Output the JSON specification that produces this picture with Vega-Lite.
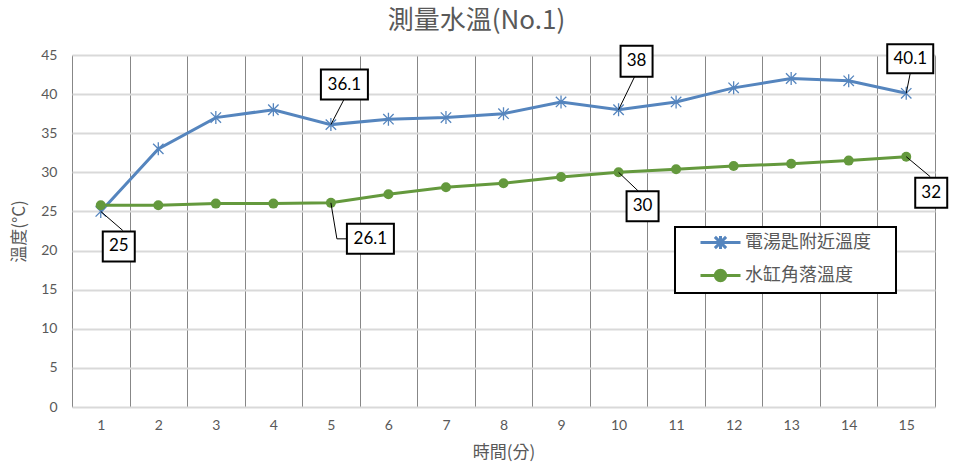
{
  "$schema": "https://vega.github.io/schema/vega-lite/v6.json",
  "autosize": "none",
  "padding": {"left": 72, "top": 55, "right": 18, "bottom": 64},
  "width": 863,
  "height": 352,
  "title": {
    "text": "測量水溫(No.1)",
    "font": "Noto Sans CJK TC",
    "fontSize": 26,
    "fontWeight": "normal",
    "color": "#595959",
    "anchor": "middle",
    "dx": -27,
    "offset": 9
  },
  "config": {
    "font": "Lato, 'Noto Sans CJK TC'",
    "view": {"stroke": null},
    "axis": {
      "labelColor": "#595959",
      "titleColor": "#595959",
      "titleFont": "Noto Sans CJK TC",
      "titleFontWeight": "normal",
      "titleFontSize": 17
    }
  },
  "data": {
    "values": [
      {"t": 1, "series": "電湯匙附近溫度", "temp": 25},
      {"t": 2, "series": "電湯匙附近溫度", "temp": 33},
      {"t": 3, "series": "電湯匙附近溫度", "temp": 37},
      {"t": 4, "series": "電湯匙附近溫度", "temp": 38},
      {"t": 5, "series": "電湯匙附近溫度", "temp": 36.1},
      {"t": 6, "series": "電湯匙附近溫度", "temp": 36.8},
      {"t": 7, "series": "電湯匙附近溫度", "temp": 37},
      {"t": 8, "series": "電湯匙附近溫度", "temp": 37.5},
      {"t": 9, "series": "電湯匙附近溫度", "temp": 39},
      {"t": 10, "series": "電湯匙附近溫度", "temp": 38},
      {"t": 11, "series": "電湯匙附近溫度", "temp": 39},
      {"t": 12, "series": "電湯匙附近溫度", "temp": 40.8},
      {"t": 13, "series": "電湯匙附近溫度", "temp": 42},
      {"t": 14, "series": "電湯匙附近溫度", "temp": 41.7},
      {"t": 15, "series": "電湯匙附近溫度", "temp": 40.1},
      {"t": 1, "series": "水缸角落溫度", "temp": 25.8},
      {"t": 2, "series": "水缸角落溫度", "temp": 25.8},
      {"t": 3, "series": "水缸角落溫度", "temp": 26},
      {"t": 4, "series": "水缸角落溫度", "temp": 26},
      {"t": 5, "series": "水缸角落溫度", "temp": 26.1},
      {"t": 6, "series": "水缸角落溫度", "temp": 27.2},
      {"t": 7, "series": "水缸角落溫度", "temp": 28.1},
      {"t": 8, "series": "水缸角落溫度", "temp": 28.6},
      {"t": 9, "series": "水缸角落溫度", "temp": 29.4},
      {"t": 10, "series": "水缸角落溫度", "temp": 30},
      {"t": 11, "series": "水缸角落溫度", "temp": 30.4},
      {"t": 12, "series": "水缸角落溫度", "temp": 30.8},
      {"t": 13, "series": "水缸角落溫度", "temp": 31.1},
      {"t": 14, "series": "水缸角落溫度", "temp": 31.5},
      {"t": 15, "series": "水缸角落溫度", "temp": 32}
    ]
  },
  "encoding": {
    "x": {
      "field": "t", "type": "quantitative",
      "scale": {"domain": [0.5, 15.5], "nice": false, "zero": false},
      "axis": {
        "values": [0.5, 1.5, 2.5, 3.5, 4.5, 5.5, 6.5, 7.5, 8.5, 9.5, 10.5, 11.5, 12.5, 13.5, 14.5, 15.5],
        "labelExpr": "datum.value < 15 ? datum.value + 0.5 : ''",
        "labelOffset": 28.77,
        "labelOverlap": false,
        "labelBound": false,
        "labelFlush": false,
        "grid": true, "gridColor": "#878787", "gridWidth": 1,
        "ticks": false, "domain": false,
        "labelFontSize": 14, "labelPadding": 11,
        "title": "時間(分)", "titlePadding": 12
      }
    },
    "y": {
      "field": "temp", "type": "quantitative",
      "scale": {"domain": [0, 45], "nice": false},
      "axis": {
        "values": [0, 5, 10, 15, 20, 25, 30, 35, 40, 45],
        "grid": true, "gridColor": "#d9d9d9", "gridWidth": 2,
        "ticks": false, "domain": false,
        "labelFontSize": 14, "labelPadding": 15,
        "title": "溫度(°C)", "titlePadding": 12
      }
    }
  },
  "layer": [
    {
      "mark": {"type": "line", "strokeWidth": 3},
      "encoding": {
        "color": {
          "field": "series", "type": "nominal",
          "scale": {"domain": ["電湯匙附近溫度", "水缸角落溫度"], "range": ["#5585be", "#64993d"]},
          "legend": {
            "title": null,
            "orient": "none",
            "legendX": 603,
            "legendY": 172,
            "padding": 6,
            "rowPadding": 9,
            "fillColor": "#ffffff",
            "strokeColor": "#000000",
            "symbolSize": 256,
            "symbolOffset": 30,
            "symbolStrokeWidth": 3,
            "labelOffset": 15,
            "labelFont": "Noto Sans CJK TC",
            "labelFontSize": 18,
            "labelColor": "#595959",
            "encode": {
              "legend": {"update": {"strokeWidth": {"value": 2}}},
              "symbols": {
                "update": {
                  "shape": {"signal": "datum.value === '電湯匙附近溫度' ? 'M-2.5,0L2.5,0M-0.7,-0.7L0.7,0.7M-0.7,0.7L0.7,-0.7M0,-0.8L0,0.8M20.4,0' : 'M-2.5,0L2.5,0M0.65,0A0.65,0.65,0,1,1,-0.65,0A0.65,0.65,0,1,1,0.65,0'"},
                  "fill": {"signal": "datum.value === '水缸角落溫度' ? '#64993d' : 'transparent'"}
                }
              }
            }
          }
        }
      }
    },
    {
      "transform": [{"filter": "datum.series === '電湯匙附近溫度'"}],
      "mark": {
        "type": "point",
        "shape": "M-0.8,-0.8L0.8,0.8M-0.8,0.8L0.8,-0.8M0,-1L0,1",
        "size": 169, "filled": false, "strokeWidth": 1.3, "opacity": 1,
        "color": "#5585be"
      }
    },
    {
      "transform": [{"filter": "datum.series === '水缸角落溫度'"}],
      "mark": {"type": "point", "shape": "circle", "size": 100, "filled": true, "opacity": 1, "color": "#64993d"}
    },
    {
      "transform": [{"filter": "datum.series === '電湯匙附近溫度' && datum.t === 1"}],
      "encoding": {"x2": {"field": "t"}, "y2": {"field": "temp"}},
      "layer": [
        {"mark": {"type": "rule", "color": "#000000", "strokeWidth": 1, "x2Offset": 22, "y2Offset": 19}},
        {"mark": {"type": "rect", "fill": "#ffffff", "stroke": "#000000", "strokeWidth": 2, "xOffset": 2, "x2Offset": 34, "yOffset": 20, "y2Offset": 50}},
        {"mark": {"type": "text", "fontSize": 17, "color": "#000000", "dx": 18, "dy": 35}, "encoding": {"text": {"field": "temp"}}}
      ]
    },
    {
      "transform": [{"filter": "datum.series === '水缸角落溫度' && datum.t === 5"}],
      "encoding": {"x2": {"field": "t"}, "y2": {"field": "temp"}},
      "layer": [
        {"mark": {"type": "rule", "color": "#000000", "strokeWidth": 1, "x2Offset": 6, "y2Offset": 36}},
        {"mark": {"type": "rule", "color": "#000000", "strokeWidth": 1, "xOffset": 6, "yOffset": 36, "x2Offset": 16, "y2Offset": 36}},
        {"mark": {"type": "rect", "fill": "#ffffff", "stroke": "#000000", "strokeWidth": 2, "xOffset": 16, "x2Offset": 63, "yOffset": 21, "y2Offset": 51}},
        {"mark": {"type": "text", "fontSize": 17, "color": "#000000", "dx": 39.5, "dy": 36}, "encoding": {"text": {"field": "temp"}}}
      ]
    },
    {
      "transform": [{"filter": "datum.series === '電湯匙附近溫度' && datum.t === 5"}],
      "encoding": {"x2": {"field": "t"}, "y2": {"field": "temp"}},
      "layer": [
        {"mark": {"type": "rule", "color": "#000000", "strokeWidth": 1, "x2Offset": 13, "y2Offset": -25}},
        {"mark": {"type": "rect", "fill": "#ffffff", "stroke": "#000000", "strokeWidth": 2, "xOffset": -10, "x2Offset": 37, "yOffset": -55, "y2Offset": -25}},
        {"mark": {"type": "text", "fontSize": 17, "color": "#000000", "dx": 13.5, "dy": -40}, "encoding": {"text": {"field": "temp"}}}
      ]
    },
    {
      "transform": [{"filter": "datum.series === '電湯匙附近溫度' && datum.t === 10"}],
      "encoding": {"x2": {"field": "t"}, "y2": {"field": "temp"}},
      "layer": [
        {"mark": {"type": "rule", "color": "#000000", "strokeWidth": 1, "x2Offset": 16, "y2Offset": -33}},
        {"mark": {"type": "rect", "fill": "#ffffff", "stroke": "#000000", "strokeWidth": 2, "xOffset": 2, "x2Offset": 34, "yOffset": -64, "y2Offset": -33}},
        {"mark": {"type": "text", "fontSize": 17, "color": "#000000", "dx": 18, "dy": -48.5}, "encoding": {"text": {"field": "temp"}}}
      ]
    },
    {
      "transform": [{"filter": "datum.series === '電湯匙附近溫度' && datum.t === 15"}],
      "encoding": {"x2": {"field": "t"}, "y2": {"field": "temp"}},
      "layer": [
        {"mark": {"type": "rule", "color": "#000000", "strokeWidth": 1, "x2Offset": 4, "y2Offset": -20}},
        {"mark": {"type": "rect", "fill": "#ffffff", "stroke": "#000000", "strokeWidth": 2, "xOffset": -19, "x2Offset": 27, "yOffset": -49, "y2Offset": -20}},
        {"mark": {"type": "text", "fontSize": 17, "color": "#000000", "dx": 4, "dy": -34.5}, "encoding": {"text": {"field": "temp"}}}
      ]
    },
    {
      "transform": [{"filter": "datum.series === '水缸角落溫度' && datum.t === 10"}],
      "encoding": {"x2": {"field": "t"}, "y2": {"field": "temp"}},
      "layer": [
        {"mark": {"type": "rule", "color": "#000000", "strokeWidth": 1, "x2Offset": 20, "y2Offset": 19}},
        {"mark": {"type": "rect", "fill": "#ffffff", "stroke": "#000000", "strokeWidth": 2, "xOffset": 8, "x2Offset": 40, "yOffset": 19, "y2Offset": 49}},
        {"mark": {"type": "text", "fontSize": 17, "color": "#000000", "dx": 24, "dy": 34}, "encoding": {"text": {"field": "temp"}}}
      ]
    },
    {
      "transform": [{"filter": "datum.series === '水缸角落溫度' && datum.t === 15"}],
      "encoding": {"x2": {"field": "t"}, "y2": {"field": "temp"}},
      "layer": [
        {"mark": {"type": "rule", "color": "#000000", "strokeWidth": 1, "x2Offset": 24, "y2Offset": 20}},
        {"mark": {"type": "rect", "fill": "#ffffff", "stroke": "#000000", "strokeWidth": 2, "xOffset": 9, "x2Offset": 41, "yOffset": 21, "y2Offset": 51}},
        {"mark": {"type": "text", "fontSize": 17, "color": "#000000", "dx": 25, "dy": 36}, "encoding": {"text": {"field": "temp"}}}
      ]
    }
  ]
}
